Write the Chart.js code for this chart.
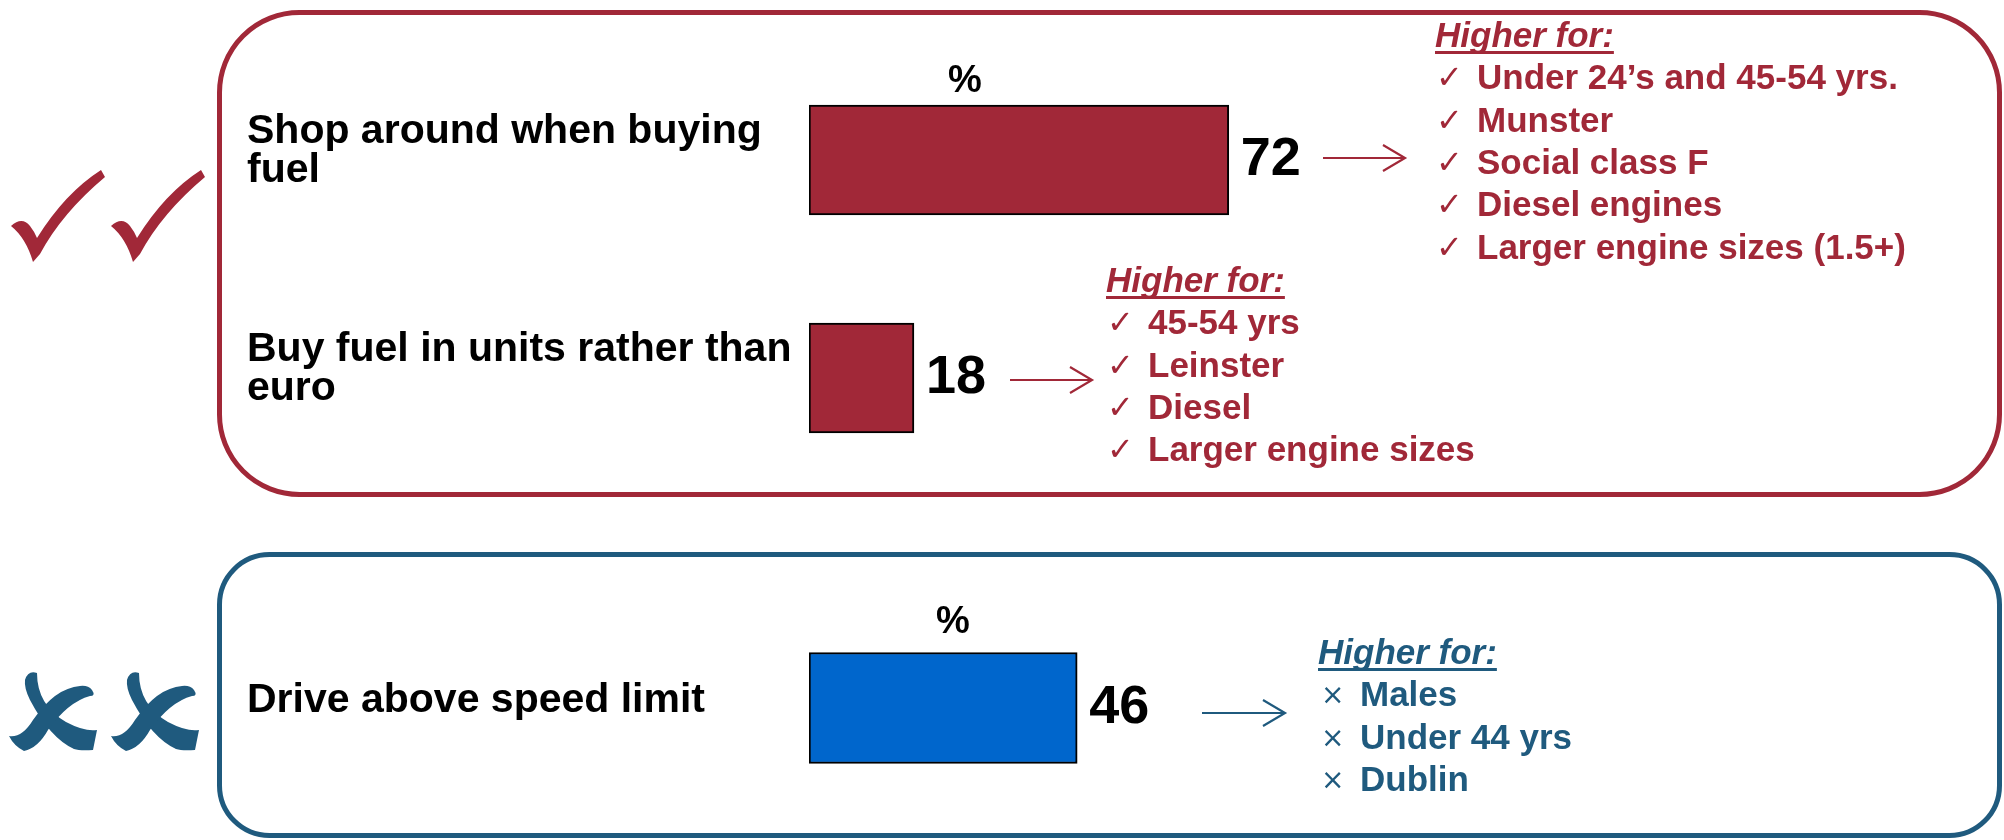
<!DOCTYPE html>
<html>
<head>
<meta charset="utf-8">
<script src="https://cdn.jsdelivr.net/npm/chart.js@4.4.1/dist/chart.umd.min.js"></script>
<style>
  html, body { margin: 0; padding: 0; background: #ffffff; }
  #wrap { position: relative; width: 2004px; height: 840px; overflow: hidden; background: #fff; }
  #wrap canvas { position: absolute; left: 0; top: 0; }
</style>
</head>
<body>
<div id="wrap">
  <canvas id="topChart" width="2004" height="840"></canvas>
  <canvas id="bottomChart" width="2004" height="840"></canvas>
</div>
<script>
// ---------------- DATA ----------------
const topCategories = [["Shop around when buying", "fuel"], ["Buy fuel in units rather than", "euro"]];
const topValues = [72, 18];
const bottomCategories = [["Drive above speed limit"]];
const bottomValues = [46];
const unitLabel = "%";
const listHeader = "Higher for:";
const shopHigherFor = ["Under 24\u2019s and 45-54 yrs.", "Munster", "Social class F", "Diesel engines", "Larger engine sizes (1.5+)"];
const buyHigherFor = ["45-54 yrs", "Leinster", "Diesel", "Larger engine sizes"];
const speedHigherFor = ["Males", "Under 44 yrs", "Dublin"];

// ---------------- STYLE ----------------
const RED = "#A12838";
const BLUE_TEXT = "#1F5A7E";
const BLUE_BAR = "#0066CC";
const FONT = "'Liberation Sans', Arial, Helvetica, sans-serif";
const SYMFONT = "'DejaVu Sans', sans-serif";

function roundRect(ctx, x, y, w, h, r) {
  ctx.beginPath();
  ctx.moveTo(x + r, y);
  ctx.arcTo(x + w, y, x + w, y + h, r);
  ctx.arcTo(x + w, y + h, x, y + h, r);
  ctx.arcTo(x, y + h, x, y, r);
  ctx.arcTo(x, y, x + w, y, r);
  ctx.closePath();
}

function drawBigCheck(ctx, ox, oy, color) {
  ctx.save();
  ctx.translate(ox, oy);
  ctx.fillStyle = color;
  ctx.beginPath();
  ctx.moveTo(0, 53);
  ctx.quadraticCurveTo(11, 43, 19, 53);
  ctx.quadraticCurveTo(23, 58, 26, 65);
  ctx.quadraticCurveTo(54, 20, 90, -3);
  ctx.lineTo(94, 4);
  ctx.quadraticCurveTo(51, 40, 29, 81);
  ctx.lineTo(22, 89);
  ctx.quadraticCurveTo(15, 65, 0, 53);
  ctx.closePath();
  ctx.fill();
  ctx.restore();
}

function drawBigX(ctx, ox, oy, color) {
  ctx.save();
  ctx.translate(ox, oy);
  ctx.fillStyle = color;
  ctx.beginPath();
  ctx.moveTo(16, 7);
  ctx.quadraticCurveTo(19, -3, 28, 0);
  ctx.quadraticCurveTo(28, 32, 57, 49);
  ctx.quadraticCurveTo(76, 59, 88, 57);
  ctx.lineTo(84, 77);
  ctx.quadraticCurveTo(71, 78, 65, 76);
  ctx.quadraticCurveTo(41, 65, 21, 27);
  ctx.quadraticCurveTo(15, 15, 16, 7);
  ctx.closePath();
  ctx.fill();
  ctx.beginPath();
  ctx.moveTo(83, 17);
  ctx.quadraticCurveTo(87, 23, 81, 23);
  ctx.quadraticCurveTo(59, 29, 39, 57);
  ctx.quadraticCurveTo(29, 75, 15, 78);
  ctx.quadraticCurveTo(5, 73, 0, 63);
  ctx.quadraticCurveTo(13, 65, 24, 47);
  ctx.quadraticCurveTo(46, 15, 71, 13);
  ctx.quadraticCurveTo(79, 12, 83, 17);
  ctx.closePath();
  ctx.fill();
  ctx.restore();
}

function drawArrow(ctx, x1, x2, y, color) {
  ctx.save();
  ctx.strokeStyle = color;
  ctx.lineWidth = 2.2;
  ctx.beginPath();
  ctx.moveTo(x1, y);
  ctx.lineTo(x2, y);
  ctx.moveTo(x2 - 22, y - 13);
  ctx.lineTo(x2, y);
  ctx.lineTo(x2 - 22, y + 13);
  ctx.stroke();
  ctx.restore();
}

function drawList(ctx, x, headerBaseline, items, color, bullet) {
  ctx.save();
  ctx.fillStyle = color;
  ctx.strokeStyle = color;
  ctx.textBaseline = "alphabetic";
  ctx.textAlign = "left";
  ctx.font = "italic bold 35px " + FONT;
  ctx.fillText(listHeader, x, headerBaseline);
  const w = ctx.measureText(listHeader).width;
  ctx.lineWidth = 3;
  ctx.beginPath();
  ctx.moveTo(x, headerBaseline + 5.5);
  ctx.lineTo(x + w, headerBaseline + 5.5);
  ctx.stroke();
  const step = 42.3;
  items.forEach((t, i) => {
    const b = headerBaseline + step * (i + 1);
    if (bullet === "check") {
      ctx.font = "32px " + SYMFONT;
      ctx.fillText("\u2713", x + 1, b - 1);
    } else {
      ctx.font = "28px " + SYMFONT;
      ctx.fillText("\u00D7", x + 3, b - 2);
    }
    ctx.font = "bold 35px " + FONT;
    ctx.fillText(t, x + 42, b);
  });
  ctx.restore();
}

const valueLabelPlugin = {
  id: "valueLabels",
  afterDatasetsDraw(chart) {
    const ctx = chart.ctx;
    const meta = chart.getDatasetMeta(0);
    const vals = chart.data.datasets[0].data;
    ctx.save();
    ctx.fillStyle = "#000";
    ctx.font = "bold 54px " + FONT;
    ctx.textAlign = "left";
    ctx.textBaseline = "middle";
    meta.data.forEach((bar, i) => {
      ctx.fillText(String(vals[i]), bar.x + 12, bar.y);
    });
    ctx.restore();
  }
};

function makeDecor(group) {
  return {
    id: "decor_" + group.name,
    beforeDraw(chart) {
      const ctx = chart.ctx;
      ctx.save();
      ctx.strokeStyle = group.color;
      ctx.lineWidth = 5;
      roundRect(ctx, group.box.x, group.box.y, group.box.w, group.box.h, group.box.r);
      ctx.stroke();
      ctx.restore();
    },
    afterDraw(chart) {
      const ctx = chart.ctx;
      group.symbols.forEach(s => {
        if (group.symbol === "check") drawBigCheck(ctx, s.x, s.y, group.color);
        else drawBigX(ctx, s.x, s.y, group.color);
      });
      ctx.save();
      ctx.fillStyle = "#000";
      ctx.font = "bold 38px " + FONT;
      ctx.textAlign = "center";
      ctx.textBaseline = "alphabetic";
      ctx.fillText(unitLabel, group.percent.x, group.percent.y);
      ctx.restore();
      group.arrows.forEach(a => drawArrow(ctx, a.x1, a.x2, a.y, group.color));
      group.lists.forEach(l => drawList(ctx, l.x, l.header, l.items, group.color, group.symbol));
    }
  };
}

const topGroup = {
  name: "top", color: RED, symbol: "check",
  box: { x: 219.5, y: 12.5, w: 1780, h: 482, r: 80 },
  symbols: [{ x: 11, y: 173 }, { x: 111, y: 173 }],
  percent: { x: 965, y: 92 },
  arrows: [{ x1: 1323, x2: 1405, y: 158 }, { x1: 1010, x2: 1092, y: 380 }],
  lists: [
    { x: 1435, header: 47, items: shopHigherFor },
    { x: 1106, header: 292, items: buyHigherFor }
  ]
};
const bottomGroup = {
  name: "bottom", color: BLUE_TEXT, symbol: "x",
  box: { x: 219.5, y: 554.5, w: 1780, h: 281, r: 50 },
  symbols: [{ x: 9, y: 673 }, { x: 111, y: 673 }],
  percent: { x: 953, y: 633 },
  arrows: [{ x1: 1202, x2: 1285, y: 713 }],
  lists: [
    { x: 1318, header: 664, items: speedHigherFor }
  ]
};

const AXIS_LEFT = 247;
const PLOT_LEFT = 809;
const PLOT_RIGHT = 1392;

function makeChart(canvasId, categories, values, fill, group, top, bottom, thickness, labelOffset) {
  return new Chart(document.getElementById(canvasId), {
    type: "bar",
    data: {
      labels: categories,
      datasets: [{
        data: values,
        backgroundColor: fill,
        borderColor: "#000",
        borderWidth: 2,
        borderSkipped: false,
        barThickness: thickness
      }]
    },
    options: {
      indexAxis: "y",
      responsive: false,
      devicePixelRatio: 1,
      animation: false,
      layout: { padding: { left: AXIS_LEFT, right: 2004 - PLOT_RIGHT, top: top, bottom: 840 - bottom } },
      plugins: { legend: { display: false }, tooltip: { enabled: false }, title: { display: false } },
      scales: {
        x: { min: 0, max: 100, display: false },
        y: {
          grid: { display: false },
          border: { display: false },
          afterFit(scale) { scale.width = PLOT_LEFT - AXIS_LEFT; },
          ticks: {
            autoSkip: false,
            crossAlign: "far",
            padding: 0,
            labelOffset: labelOffset,
            color: "#000",
            font: { family: FONT, size: 41, weight: "bold", lineHeight: "39px" }
          }
        }
      }
    },
    plugins: [makeDecor(group), valueLabelPlugin]
  });
}

makeChart("topChart", topCategories, topValues, RED, topGroup, 51, 487, 110, -9);
makeChart("bottomChart", bottomCategories, bottomValues, BLUE_BAR, bottomGroup, 599, 817, 111, -7);
</script>
</body>
</html>
